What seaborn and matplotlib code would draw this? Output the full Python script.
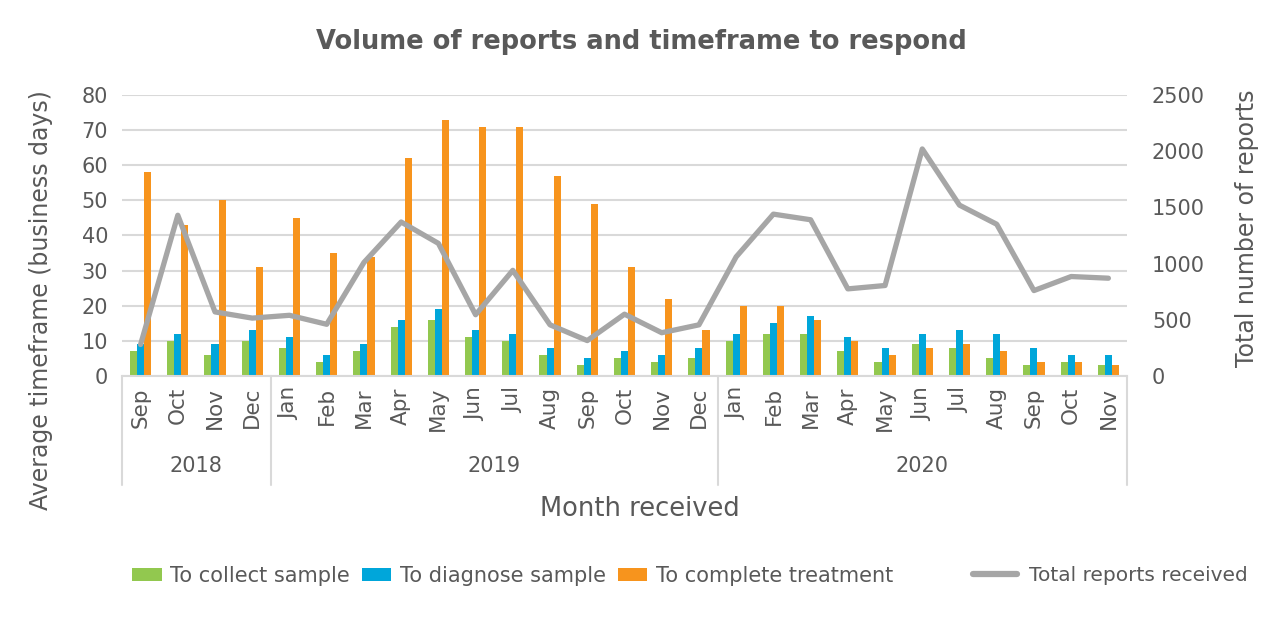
import numpy as np
import pandas as pd
import matplotlib
matplotlib.use("Agg")
import matplotlib.pyplot as plt
import seaborn as sns
from matplotlib.lines import Line2D
from matplotlib.patches import Patch
import matplotlib.transforms as mtransforms

# data
months = ["Sep", "Oct", "Nov", "Dec",
          "Jan", "Feb", "Mar", "Apr", "May", "Jun", "Jul", "Aug", "Sep", "Oct", "Nov", "Dec",
          "Jan", "Feb", "Mar", "Apr", "May", "Jun", "Jul", "Aug", "Sep", "Oct", "Nov"]
years = ["2018"] * 4 + ["2019"] * 12 + ["2020"] * 11
collect = [7, 10, 6, 10, 8, 4, 7, 14, 16, 11, 10, 6, 3, 5, 4, 5, 10, 12, 12, 7, 4, 9, 8, 5, 3, 4, 3]
diagnose = [9, 12, 9, 13, 11, 6, 9, 16, 19, 13, 12, 8, 5, 7, 6, 8, 12, 15, 17, 11, 8, 12, 13, 12, 8, 6, 6]
treatment = [58, 43, 50, 31, 45, 35, 34, 62, 73, 71, 71, 57, 49, 31, 22, 13, 20, 20, 16, 10, 6, 8, 9, 7, 4, 4, 3]
total_reports = [280, 1430, 570, 515, 540, 460, 1010, 1370, 1180, 545, 940, 455, 315, 550, 385, 455,
                 1060, 1440, 1390, 775, 805, 2020, 1520, 1350, 760, 885, 870]

series_names = ["To collect sample", "To diagnose sample", "To complete treatment"]
line_name = "Total reports received"
colors = ["#92C84F", "#00A6DA", "#F7941D"]
line_color = "#A6A6A6"
text_color = "#595959"
grid_color = "#D9D9D9"

idx = np.arange(len(months))
df = pd.DataFrame({
    "idx": np.tile(idx, 3),
    "days": collect + diagnose + treatment,
    "measure": np.repeat(series_names, len(months)),
})

sns.set_style("white")
plt.rcParams["font.family"] = ["DejaVu Sans"]
plt.rcParams["text.color"] = text_color

fig = plt.figure(figsize=(12.88, 6.18), dpi=100)
ax = fig.add_axes([0.0947, 0.3916, 0.7803, 0.4547])

sns.barplot(data=df, x="idx", y="days", hue="measure", hue_order=series_names,
            palette=colors, width=0.57, saturation=1, linewidth=0, ax=ax, legend=False)
ax.set_ylim(0, 80)
ax.set_xlim(-0.5, len(months) - 0.5)
ax.set_yticks(np.arange(0, 81, 10))
ax.yaxis.grid(True, color=grid_color, linewidth=1.5)
ax.set_axisbelow(True)
ax.set_xticks(idx)
ax.set_xticklabels(months, rotation=90, fontsize=15.5, color=text_color)
ax.tick_params(axis="y", labelsize=15, labelcolor=text_color, length=0, pad=10)
ax.tick_params(axis="x", length=0, pad=8)
ax.set_xlabel("")
ax.set_ylabel("Average timeframe (business days)", fontsize=17, color=text_color)
ax.yaxis.set_label_coords(-0.069, 0.27)
for side in ["top", "right", "left"]:
    ax.spines[side].set_visible(False)
ax.spines["bottom"].set_color(grid_color)
ax.spines["bottom"].set_linewidth(1.5)

ax2 = ax.twinx()
sns.lineplot(x=idx, y=total_reports, ax=ax2, color=line_color, linewidth=3.8)
ax2.set_ylim(0, 2500)
ax2.set_yticks(np.arange(0, 2501, 500))
ax2.tick_params(axis="y", labelsize=15, labelcolor=text_color, length=0, pad=18)
ax2.set_ylabel("Total number of reports", fontsize=17, color=text_color)
ax2.yaxis.set_label_coords(1.107, 0.527)
for side in ["top", "right", "left", "bottom"]:
    ax2.spines[side].set_visible(False)

# year grouping under the month labels
trans = mtransforms.blended_transform_factory(ax.transData, ax.transAxes)
year_order = list(dict.fromkeys(years))
bounds = [-0.5]
for y in year_order:
    n = years.count(y)
    start = bounds[-1]
    ax.text(start + n / 2, -0.322, y, transform=trans, ha="center", va="center",
            fontsize=15, color=text_color)
    bounds.append(start + n)
for b in bounds:
    ax.plot([b, b], [0, -0.388], transform=trans, color=grid_color, linewidth=1.5, clip_on=False)

fig.text(0.497, 0.177, "Month received", ha="center", va="center", fontsize=18.5, color=text_color)
fig.text(0.498, 0.932, "Volume of reports and timeframe to respond", ha="center", va="center",
         fontsize=18.5, fontweight="bold", color=text_color)

bar_handles = [Patch(facecolor=c, edgecolor="none") for c in colors]
fig.legend(bar_handles, series_names, loc="center", bbox_to_anchor=(0.398, 0.068),
           ncol=3, frameon=False, fontsize=15, handlelength=1.4, handleheight=0.6,
           handletextpad=0.4, columnspacing=0.6, labelcolor=text_color)
fig.legend([Line2D([0], [0], color=line_color, linewidth=4.5)], [line_name], loc="center",
           bbox_to_anchor=(0.862, 0.068), frameon=False, fontsize=14.5, handlelength=2.2,
           handletextpad=0.6, labelcolor=text_color)

fig.savefig("out.png", dpi=100)
